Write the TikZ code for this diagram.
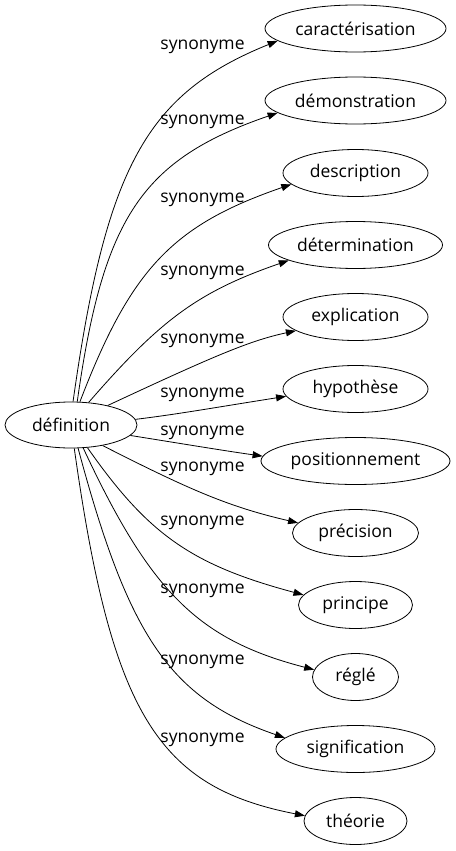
\documentclass[tikz,border=0pt]{standalone}
\usepackage{fontspec}
\setmainfont{Open Sans}
\usetikzlibrary{arrows.meta,shapes.geometric}
\tikzset{
  mot/.style={draw, ellipse, line width=0.8pt, minimum height=47pt, inner sep=0pt,
    font=\fontsize{17.5}{20}\selectfont},
  lien/.style={line width=0.8pt, -{Triangle[length=10pt,width=7pt]}},
  etiq/.style={inner sep=0pt, font=\fontsize{17.5}{20}\selectfont}
}
\begin{document}
\begin{tikzpicture}[x=1pt,y=1pt]
\useasboundingbox (0,0) rectangle (455,-851);
\node[mot, minimum width=132pt, minimum height=46pt] (def) at (71,-425) {définition};
% synonymes, de haut en bas
\foreach \nom/\texte/\y/\w/\sa/\aout/\ea/\ain/\od/\id/\ly in {
  car/caractérisation/28.5/181/85/82/189.2/202/238/141/47,
  dem/démonstration/100.5/181/75/82/189.8/199/186/144/122,
  des/description/173/145/69/69/190.9/199/142/126/200,
  det/détermination/245/174/52/49/193.9/199/108/97/273,
  exp/explication/317/145/28/25/193.5/192/117/47/341,
  hyp/hypothèse/389/145/5/7/186.7/189/43/79/395,
  pos/positionnement/461/189/-10/-9/177.9/172/40/40/433,
  pre/précision/533/126/-33/-27/170/167/99/70/469,
  pri/principe/605/114/-54/-55/169.8/165/106/116/523,
  reg/réglé/677/86/-62/-65/170.5/165.5/159/120/591,
  sig/signification/749/159/-73/-75/171/161/196/121/662,
  the/théorie/821/103/-82/-82/174.3/169/268/150/740}{
  \node[mot, minimum width=\w pt] (\nom) at (355.5,-\y) {\texte};
  \draw[lien] (def.\sa) to[out=\aout, in=\ain, out distance=\od pt, in distance=\id pt] (\nom.\ea);
  \node[etiq] (l\nom) at (202.5,-\ly) {synonyme};
}
\end{tikzpicture}
\end{document}
